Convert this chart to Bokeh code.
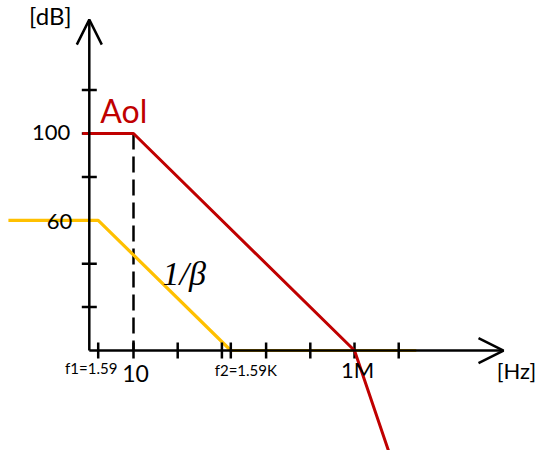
import numpy as np
from bokeh.plotting import figure
from bokeh.models import Range1d, Arrow, OpenHead
from bokeh.core.properties import value
from bokeh.embed import file_html
from bokeh.resources import INLINE

# Open-loop gain Aol, asymptotic Bode magnitude (Hz, dB)
aol_freq = [0.7, 10, 1e6, 6.3e6]
aol_db = [100, 100, 0, -48]

# Noise gain 1/beta (Hz, dB)
beta_freq = [0.0148, 1.59, 1590, 2.5e7]
beta_db = [60, 60, 0, 0]

# Tick marks on the two axes
x_ticks = [1.59, 10, 100, 1e3, 1590, 1e4, 1e5, 1e6, 1e7]
y_ticks = [20, 40, 60, 80, 100, 120]

# Labelled ticks
x_label_freq = [1.59, 10, 1590, 1e6]
x_label_text = ["f1=1.59", "10", "f2=1.59K", "1M"]
y_label_db = [100, 60]
y_label_text = ["100", "60"]

RED = "#C00000"
YELLOW = "#FFC000"
INK = "black"

# axes cross at 1 Hz / 0 dB
ORIGIN_F, ORIGIN_DB = 1.0, 0.0
X_END, Y_END = 2.35e9, 152.5

p = figure(width=537, height=450, x_axis_type="log",
           x_range=Range1d(10 ** -2.009, 10 ** 10.14),
           y_range=Range1d(-46.08, 161.3),
           x_axis_location=None, y_axis_location=None,
           output_backend="svg", toolbar_location=None, min_border=0)
p.xgrid.visible = False
p.ygrid.visible = False
p.outline_line_color = None
p.background_fill_color = "white"
p.border_fill_color = "white"

# axes with open arrow heads
p.add_layout(Arrow(x_start=ORIGIN_F, y_start=ORIGIN_DB, x_end=ORIGIN_F, y_end=Y_END,
                   line_width=2.5, line_color=INK,
                   end=OpenHead(size=25, line_width=2.5, line_color=INK)))
p.add_layout(Arrow(x_start=ORIGIN_F, y_start=ORIGIN_DB, x_end=X_END, y_end=ORIGIN_DB,
                   line_width=2.5, line_color=INK,
                   end=OpenHead(size=25, line_width=2.5, line_color=INK)))

# y ticks
p.scatter(x=[ORIGIN_F] * len(y_ticks), y=y_ticks, marker="dash", size=15,
          line_width=2.5, line_color=INK)

# dashed guide at the Aol corner frequency
p.line(x=[aol_freq[1], aol_freq[1]], y=[aol_db[1], 0], line_color=INK,
       line_width=2.5, line_dash="16 7")

# 1/beta curve
p.line(x=beta_freq, y=beta_db, line_color=YELLOW, line_width=3.2)

# x ticks
p.scatter(x=x_ticks, y=[ORIGIN_DB] * len(x_ticks), marker="dash", angle=np.pi / 2,
          size=16, line_width=2.5, line_color=INK)

# Aol curve
p.line(x=aol_freq, y=aol_db, line_color=RED, line_width=3)


def label(x, y, text, size, dx, dy, align="left", color=INK,
          font="Lato", style="normal"):
    p.text(x=[x], y=[y], text=[text], x_offset=dx, y_offset=dy,
           text_align=align, text_baseline="alphabetic",
           text_font=value(font), text_font_size=f"{size}px",
           text_color=color, text_font_style=style)


# axis units
label(ORIGIN_F, Y_END, "[dB]", 24, -39, -4, align="center")
label(X_END, ORIGIN_DB, "[Hz]", 22, 13, 20, align="center")

# y tick labels
label(ORIGIN_F, y_label_db[0], y_label_text[0], 22, -19, -1, align="right")
label(ORIGIN_F, y_label_db[1], y_label_text[1], 22, -17, 1, align="right")

# x tick labels
label(x_label_freq[0], ORIGIN_DB, x_label_text[0], 15, -7, 17, align="center")
label(x_label_freq[1], ORIGIN_DB, x_label_text[1], 23, 2, 23, align="center")
label(x_label_freq[2], ORIGIN_DB, x_label_text[2], 15, 15, 19, align="center")
label(x_label_freq[3], ORIGIN_DB, x_label_text[3], 22, 3, 19, align="center")

# curve names
label(ORIGIN_F, aol_db[0], "Aol", 32, 11, -23, color=RED)
label(aol_freq[1], beta_db[0], "1/β", 34, 29, 53,
      font="Liberation Serif", style="italic")

open("out.html", "w").write(file_html(p, INLINE))
